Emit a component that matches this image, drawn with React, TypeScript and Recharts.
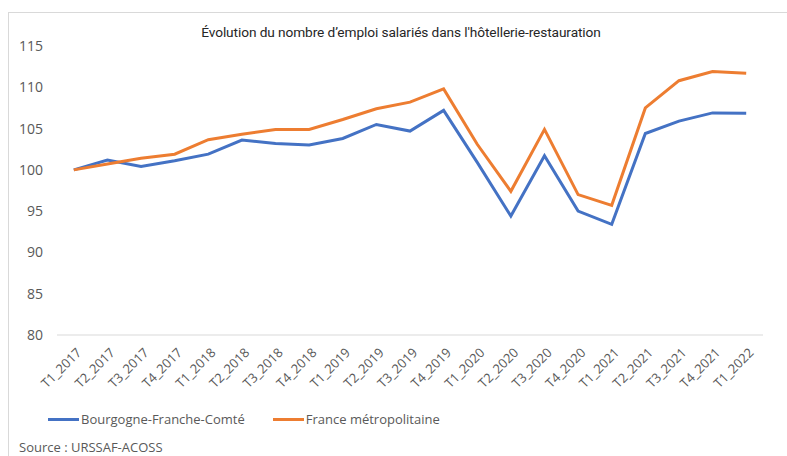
import React from 'react'
import { LineChart, Line, XAxis, YAxis } from 'recharts'

const quarters = [
  'T1_2017', 'T2_2017', 'T3_2017', 'T4_2017',
  'T1_2018', 'T2_2018', 'T3_2018', 'T4_2018',
  'T1_2019', 'T2_2019', 'T3_2019', 'T4_2019',
  'T1_2020', 'T2_2020', 'T3_2020', 'T4_2020',
  'T1_2021', 'T2_2021', 'T3_2021', 'T4_2021',
  'T1_2022',
]

const bfc = [
  100, 101.2, 100.4, 101.1,
  101.9, 103.6, 103.2, 103.0,
  103.8, 105.5, 104.7, 107.2,
  100.9, 94.4, 101.7, 95.0,
  93.4, 104.4, 105.9, 106.9,
  106.85,
]

const france = [
  100, 100.7, 101.4, 101.9,
  103.65, 104.3, 104.9, 104.9,
  106.1, 107.4, 108.2, 109.8,
  103.1, 97.4, 104.9, 97.0,
  95.7, 107.5, 110.8, 111.9,
  111.7,
]

const yTicks = [80, 85, 90, 95, 100, 105, 110, 115]

const series = [
  { key: 'bfc', name: 'Bourgogne-Franche-Comté', color: '#4472C4' },
  { key: 'france', name: 'France métropolitaine', color: '#ED7D31' },
]

const chartData = quarters.map((q, i) => ({ quarter: q, bfc: bfc[i], france: france[i] }))

const font = '"Open Sans", sans-serif'
const grey = '#595959'

function QuarterTick({ x, y, payload }: any) {
  const tx = x + 2
  const ty = y + 4
  return (
    <text
      x={tx}
      y={ty}
      dy={9}
      transform={`rotate(-45 ${tx} ${ty})`}
      textAnchor="end"
      fontSize={13}
      fontFamily={font}
      fill={grey}
    >
      {payload.value}
    </text>
  )
}

function ChartLegend() {
  return (
    <div style={{ position: 'absolute', left: 48, top: 410, display: 'flex', fontFamily: font, fontSize: 13, color: grey }}>
      {series.map(s => (
        <div key={s.key} style={{ display: 'flex', alignItems: 'center', marginRight: 28 }}>
          <span style={{ display: 'inline-block', width: 31, height: 3, background: s.color, marginRight: 2 }} />
          <span>{s.name}</span>
        </div>
      ))}
    </div>
  )
}

export default function App() {
  return (
    <div style={{ position: 'absolute', left: 0, top: 0, width: 787, height: 456, background: '#fff', overflow: 'hidden' }}>
      <div style={{ position: 'absolute', left: 8, top: 12, right: -2, bottom: -2, borderTop: '1px solid #d9d9d9', borderLeft: '1px solid #d9d9d9' }} />
      <div
        style={{
          position: 'absolute', left: 0, width: 802, top: 24, textAlign: 'center',
          fontFamily: 'Roboto, sans-serif', fontSize: 13.7, color: '#262626', letterSpacing: -0.1,
        }}
      >
        Évolution du nombre d’emploi salariés dans l'hôtellerie-restauration
      </div>
      <div style={{ position: 'absolute', left: 0, top: 0 }}>
        <LineChart width={787} height={456} data={chartData} margin={{ top: 46, right: 24, bottom: 51, left: 0 }}>
          <XAxis
            dataKey="quarter"
            interval={0}
            tick={<QuarterTick />}
            tickLine={false}
            axisLine={{ stroke: '#d9d9d9' }}
            padding={{ left: 16.8, right: 16.8 }}
            height={70}
          />
          <YAxis
            domain={[80, 115]}
            ticks={yTicks}
            width={57}
            tickLine={false}
            axisLine={false}
            tickMargin={8}
            tick={{ fontSize: 14, fontFamily: font, fill: grey }}
          />
          {series.map(s => (
            <Line
              key={s.key}
              dataKey={s.key}
              name={s.name}
              stroke={s.color}
              strokeWidth={3}
              dot={false}
              isAnimationActive={false}
            />
          ))}
        </LineChart>
      </div>
      <ChartLegend />
      <div style={{ position: 'absolute', left: 19, top: 438, fontFamily: font, fontSize: 13, color: grey }}>
        Source : URSSAF-ACOSS
      </div>
    </div>
  )
}
